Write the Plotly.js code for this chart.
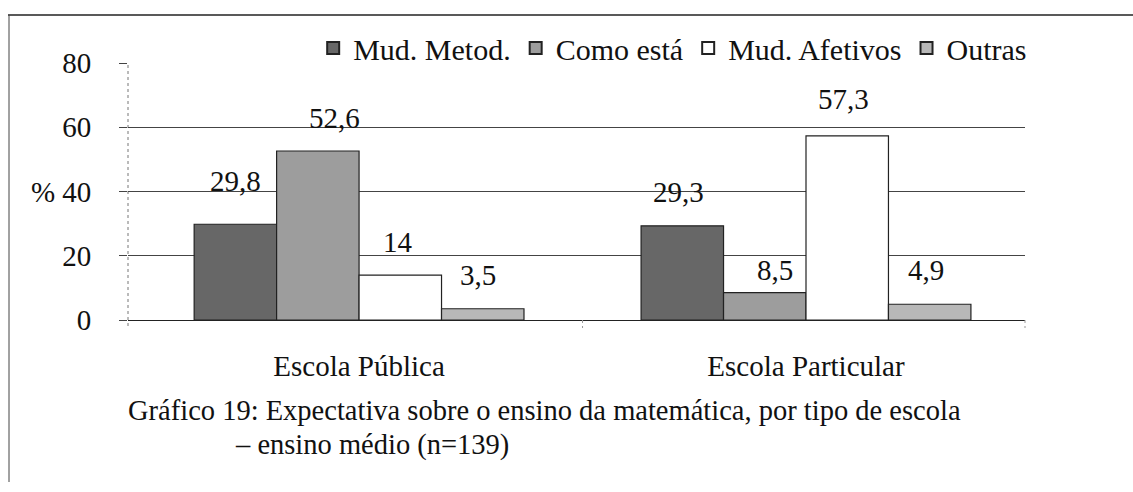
<!DOCTYPE html>
<html>
<head>
<meta charset="utf-8">
<script src="https://cdn.plot.ly/plotly-3.0.1.min.js"></script>
<style>html,body{margin:0;padding:0;background:#fff;}#chart{width:1133px;height:492px;}</style>
</head>
<body>
<div id="chart"></div>
<script>
// ---- data ----
const categories = ["Escola Pública", "Escola Particular"];
const seriesNames = ["Mud. Metod.", "Como está", "Mud. Afetivos", "Outras"];
const mudMetod = [29.8, 29.3];
const comoEsta = [52.6, 8.5];
const mudAfetivos = [14, 57.3];
const outras = [3.5, 4.9];
const valueLabels = [["29,8", "29,3"], ["52,6", "8,5"], ["14", "57,3"], ["3,5", "4,9"]];
const yTicks = [0, 20, 40, 60, 80];
const captionLine1 = "Gráfico 19: Expectativa sobre o ensino da matemática, por tipo de escola";
const captionLine2 = "– ensino médio (n=139)";

// ---- styles ----
const seriesValues = [mudMetod, comoEsta, mudAfetivos, outras];
const fills = ["#676767", "#9d9d9d", "#ffffff", "#b8b8b8"];
// label nudges in px (style only), per series / per category
const labelDx = [[0, -4], [17, 10], [-2, -4], [-5, -4]];
const labelDy = [[43, 34], [33, 23], [33, 37], [34, 34]];
const FONT = "Liberation Serif";
const FS = 29;

const traces = seriesValues.map((vals, i) => ({
  type: "bar",
  name: seriesNames[i],
  x: [0, 1],
  y: vals,
  marker: { color: fills[i], line: { color: "#222", width: 1.2 } },
  hoverinfo: "skip"
}));

// plot geometry: left 128, right 1025, top 63, bottom 320
const L = 128, R = 1025, T = 63, B = 320;
const W = R - L, H = B - T;
const px2x = p => (p - L) / W;
const px2y = p => (B - p) / H;

const xRange = [-0.517, 1.49];
const bargap = 0.262;
const barPx = (1 - bargap) / 4 * (W / (xRange[1] - xRange[0]));

const annotations = [];
seriesValues.forEach((vals, i) => {
  vals.forEach((v, j) => {
    annotations.push({
      x: j, y: v, xref: "x", yref: "y",
      text: valueLabels[i][j], showarrow: false,
      xanchor: "center", yanchor: "middle",
      xshift: (i - 1.5) * barPx + labelDx[i][j], yshift: labelDy[i][j],
      font: { family: FONT, size: FS, color: "#111" }
    });
  });
});
annotations.push({
  x: px2x(43), y: 40, xref: "paper", yref: "y", text: "%", showarrow: false,
  xanchor: "center", yanchor: "middle", font: { family: FONT, size: FS, color: "#111" }
});
annotations.push({
  x: px2x(126), y: px2y(410), xref: "paper", yref: "paper", text: captionLine1, showarrow: false,
  xanchor: "left", yanchor: "middle", font: { family: FONT, size: 28.5, color: "#111" }
});
annotations.push({
  x: px2x(233), y: px2y(445), xref: "paper", yref: "paper", text: captionLine2, showarrow: false,
  xanchor: "left", yanchor: "middle", font: { family: FONT, size: 28.5, color: "#111" }
});

const shapes = [
  { type: "line", xref: "paper", yref: "paper", x0: px2x(8), x1: px2x(1133), y0: px2y(15), y1: px2y(15), line: { color: "#222", width: 1.5 } },
  { type: "line", xref: "paper", yref: "paper", x0: px2x(9), x1: px2x(9), y0: px2y(15), y1: px2y(482), line: { color: "#444", width: 1 } },
  { type: "line", xref: "paper", yref: "paper", x0: 0, x1: 0, y0: px2y(326), y1: 1, line: { color: "#777", width: 1, dash: "dot" }, layer: "below" },
  { type: "line", xref: "x", yref: "paper", x0: 0.5, x1: 0.5, y0: px2y(320), y1: px2y(328), line: { color: "#999", width: 1, dash: "dot" } },
  { type: "line", xref: "paper", yref: "paper", x0: 1, x1: 1, y0: px2y(320), y1: px2y(328), line: { color: "#999", width: 1, dash: "dot" } }
];

const layout = {
  width: 1133, height: 492,
  margin: { l: L, r: 1133 - R, t: T, b: 492 - B, pad: 0 },
  paper_bgcolor: "#fff", plot_bgcolor: "#fff",
  barmode: "group", bargap: bargap, bargroupgap: 0,
  font: { family: FONT, size: FS, color: "#111" },
  showlegend: true,
  legend: {
    orientation: "h", x: 1.008, xanchor: "right", y: px2y(48), yanchor: "middle",
    bgcolor: "#fff", font: { family: FONT, size: 30, color: "#111" },
    traceorder: "normal", itemsizing: "constant"
  },
  xaxis: {
    type: "linear", range: xRange, tickmode: "array", tickvals: [0, 1], ticktext: categories,
    showgrid: false, zeroline: false, showline: true, linecolor: "#222", linewidth: 1,
    ticks: "", ticklabelstandoff: 20, tickfont: { family: FONT, size: FS, color: "#111" }
  },
  yaxis: {
    range: [0, 80], tickmode: "array", tickvals: yTicks,
    showgrid: true, gridcolor: "#444", gridwidth: 1, zeroline: false, showline: false,
    ticks: "outside", ticklen: 8, tickcolor: "#444", ticklabelstandoff: 22,
    tickfont: { family: FONT, size: FS, color: "#111" }
  },
  annotations: annotations,
  shapes: shapes
};

Plotly.newPlot("chart", traces, layout, { staticPlot: true, displayModeBar: false });
</script>
</body>
</html>
